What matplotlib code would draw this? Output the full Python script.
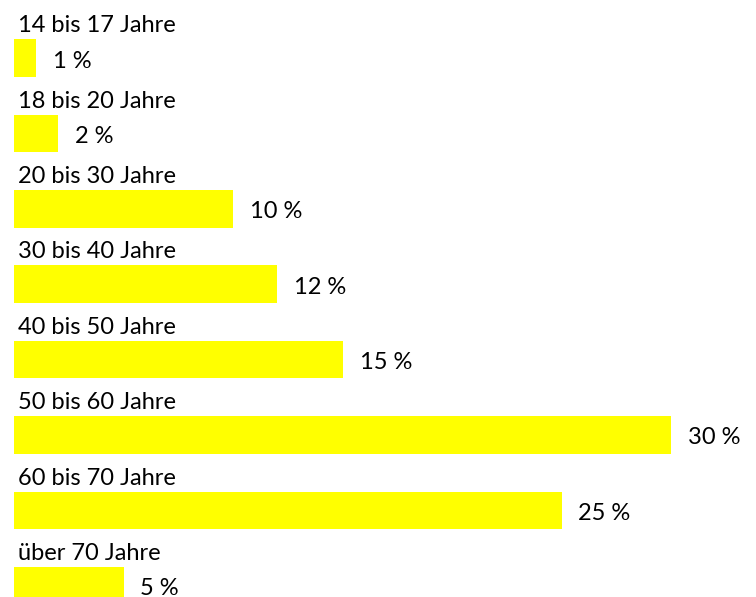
import matplotlib
matplotlib.use('Agg')
import matplotlib.pyplot as plt
from matplotlib.transforms import offset_copy

categories = ['14 bis 17 Jahre', '18 bis 20 Jahre', '20 bis 30 Jahre', '30 bis 40 Jahre',
              '40 bis 50 Jahre', '50 bis 60 Jahre', '60 bis 70 Jahre', 'über 70 Jahre']
values = [1, 2, 10, 12, 15, 30, 25, 5]

plt.rcParams['font.family'] = ['Lato', 'DejaVu Sans']

fig = plt.figure(figsize=(7.56, 5.97), dpi=100)
ax = fig.add_axes([0, 0, 1, 1])
ypos = list(range(len(categories)))
ax.barh(ypos, values, height=0.5, color='#FFFF00', left=0)

ax.set_xlim(-14 / 21.9, (756 - 14) / 21.9)
ax.set_ylim((597 - 58) / 75.4, -58 / 75.4)
ax.axis('off')

lab_tr = offset_copy(ax.transData, fig=fig, x=4, y=3, units='dots')
val_tr = offset_copy(ax.transData, fig=fig, x=17, y=-3, units='dots')
for y, c, v in zip(ypos, categories, values):
    ax.text(0, y - 0.25, c, transform=lab_tr, ha='left', va='bottom', fontsize=17,
            color='black')
    ax.text(v, y, f'{v} %', transform=val_tr, ha='left', va='center', fontsize=17,
            color='black')

fig.savefig('out.png', dpi=100)
